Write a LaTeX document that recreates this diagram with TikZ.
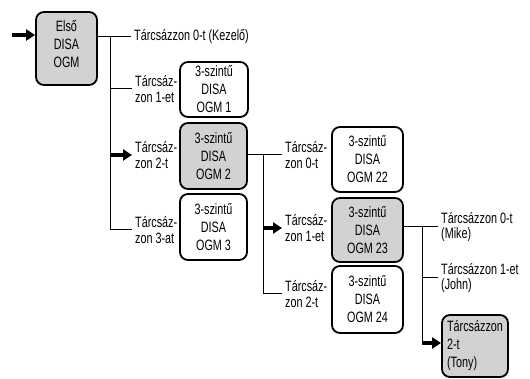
\documentclass[tikz,border=0pt]{standalone}
\usepackage{fontspec}
\setmainfont{Liberation Sans}[FakeStretch=0.72]
\usetikzlibrary{arrows.meta}
\newcommand\bxfont{\fontsize{15}{18}\selectfont}
\newcommand\lbfont{\fontsize{15}{15.5}\selectfont}
\begin{document}
\begin{tikzpicture}[x=1pt,y=-1pt,
  box/.style={draw, line width=1.8pt, rounded corners=8pt, align=center, inner sep=0pt, font=\bxfont},
  sel/.style={box, fill=gray!35},
  lbl/.style={anchor=west, align=left, inner xsep=3pt, inner ysep=0pt, font=\lbfont},
  conn/.style={line width=1pt},
  arr/.style={line width=3.5pt, -{Triangle[length=9pt,width=11pt]}}]
\useasboundingbox (0,0) rectangle (530,379);

% level 0
\node[sel, minimum width=61pt, minimum height=73pt] (first) at (66.5,48.5) {Első\\DISA\\OGM\rule[-10pt]{0pt}{0pt}};
\coordinate (s0) at (12,35);
\draw[arr] (s0) -- (first.west |- s0);

\node[lbl] (l0) at (131,37) {Tárcsázzon 0-t (Kezelő)};
\node[lbl] (l1) at (132,89) {Tárcsáz-\\zon 1-et};
\node[lbl] (l2) at (132,155) {Tárcsáz-\\zon 2-t};
\node[lbl] (l3) at (132,230) {Tárcsáz-\\zon 3-at};
\coordinate (v1a) at (110,37);
\coordinate (v1b) at (110,230);
\draw[conn] (first.east |- l0.west) -- (l0.west);
\draw[conn] (v1a) -- (v1b) -- (l3.west);
\draw[conn] (v1a |- l1.west) -- (l1.west);
\draw[arr] (v1a |- l2.west) -- (l2.west);

% level 1 boxes
\node[box, minimum width=68pt, minimum height=55pt] (o1) at (214,89.5) {3-szintű\\DISA\\OGM 1};
\node[sel, minimum width=67pt, minimum height=66pt] (o2) at (213.5,156) {3-szintű\\DISA\\OGM 2};
\node[box, minimum width=67pt, minimum height=66pt] (o3) at (213.5,227) {3-szintű\\DISA\\OGM 3};

% level 2
\node[lbl] (m0) at (282,155) {Tárcsáz-\\zon 0-t};
\node[lbl] (m1) at (282,228) {Tárcsáz-\\zon 1-et};
\node[lbl] (m2) at (282,294) {Tárcsáz-\\zon 2-t};
\coordinate (v2a) at (263,155);
\coordinate (v2b) at (263,294);
\draw[conn] (o2.east |- m0.west) -- (m0.west);
\draw[conn] (v2a) -- (v2b) -- (m2.west);
\draw[arr] (v2a |- m1.west) -- (m1.west);

\node[box, minimum width=71pt, minimum height=65pt] (o22) at (367.5,159.5) {3-szintű\\DISA\\OGM 22};
\node[sel, minimum width=71pt, minimum height=64pt] (o23) at (367.5,230) {3-szintű\\DISA\\OGM 23};
\node[box, minimum width=71pt, minimum height=67pt] (o24) at (367.5,299.5) {3-szintű\\DISA\\OGM 24};

% level 3
\node[lbl] (n0) at (438,227) {Tárcsázzon 0-t\\(Mike)};
\node[lbl] (n1) at (438,278) {Tárcsázzon 1-et\\(John)};
\node[sel, align=left, minimum width=66pt, minimum height=62pt] (tony) at (475,346) {Tárcsázzon\\2-t\\(Tony)};
\coordinate (v3a) at (422,227);
\coordinate (v3b) at (422,343);
\draw[conn] (o23.east |- n0.west) -- (n0.west);
\draw[conn] (v3a) -- (v3b);
\draw[conn] (v3a |- n1.west) -- (n1.west);
\draw[arr] (v3b) -- (tony.west |- v3b);
\end{tikzpicture}
\end{document}
